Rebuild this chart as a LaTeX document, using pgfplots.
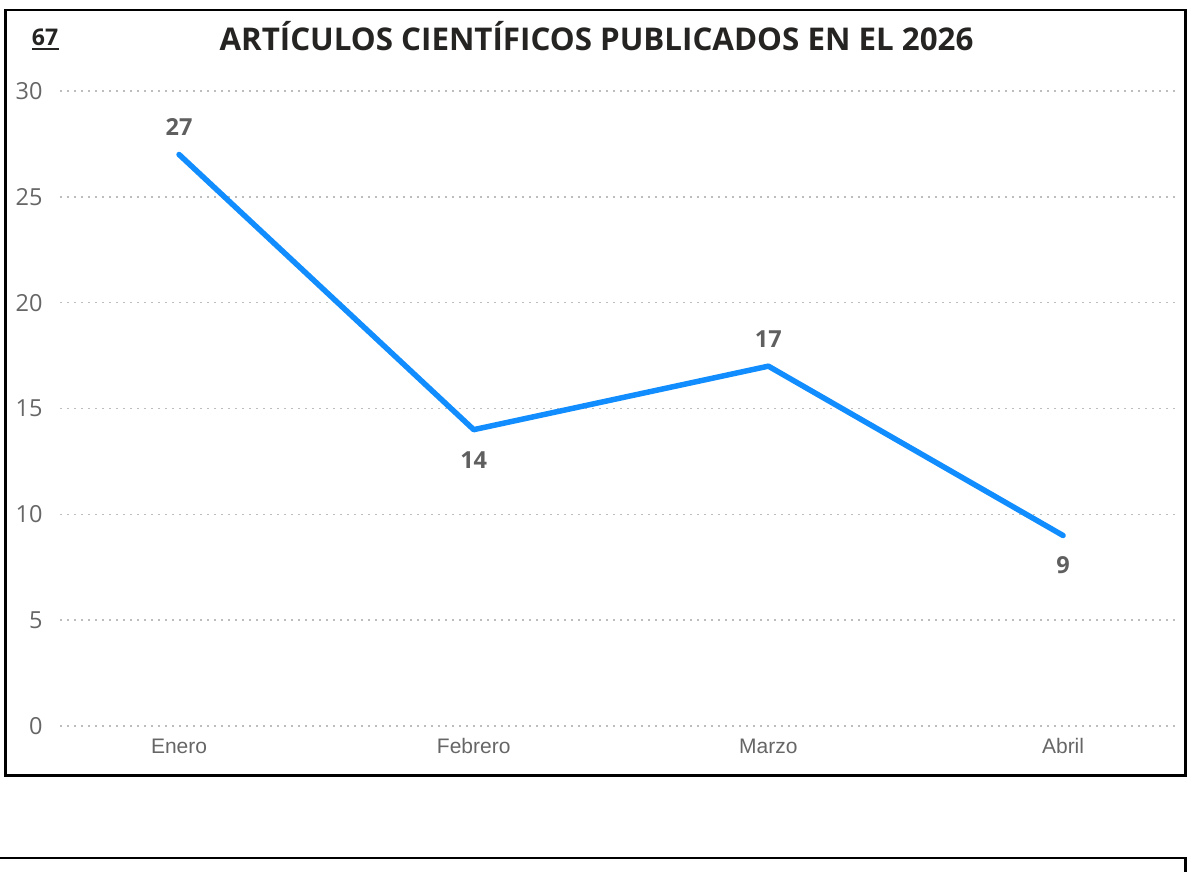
\documentclass[border=0pt]{standalone}
\usepackage{pgfplots}
\pgfplotsset{compat=1.18}
\usepackage{fontspec}
\setmainfont{Open Sans}
\newfontfamily\arialfont{Liberation Sans}
\definecolor{lineblue}{HTML}{118DFF}
\definecolor{titlecol}{HTML}{252423}
\definecolor{tickgray}{HTML}{666666}
\definecolor{lblgray}{HTML}{5F5F5F}
\definecolor{gridgray}{HTML}{BDBDBD}
\pgfplotstableread{
x y
0 27
1 14
2 17
3 9
}\datatab
\pgfplotstableread{
x y
0 27
2 17
}\abovetab
\pgfplotstableread{
x y
1 14
3 9
}\belowtab
\begin{document}
\begin{tikzpicture}
\path[use as bounding box] (0bp,0bp) rectangle (1203bp,872bp);
% outer box
\draw[line width=2.7bp,black] (5.5bp,862bp) rectangle (1185.5bp,96.5bp);
% second box (partial)
\draw[line width=2.7bp,black] (-2bp,14bp) -- (1185.5bp,14bp) -- (1185.5bp,-3bp);
% title
\node[font=\fontsize{31.3bp}{36bp}\selectfont\bfseries,text=titlecol] at (596.5bp,836bp) {ARTÍCULOS CIENTÍFICOS PUBLICADOS EN EL 2026};
\node[font=\fontsize{23bp}{27bp}\selectfont\bfseries,text=titlecol,inner sep=0pt] (n67) at (45bp,835bp) {67};
\draw[titlecol,line width=2.6bp] (32bp,823bp) -- (58.5bp,823bp);
\begin{axis}[
  at={(60bp,146bp)}, anchor=south west,
  scale only axis, width=1118bp, height=635bp,
  xmin=-0.404, xmax=3.39, ymin=0, ymax=30,
  xtick={0,1,2,3}, xticklabels={Enero,Febrero,Marzo,Abril},
  ytick={0,5,10,15,20,25,30},
  axis line style={draw=none},
  major tick length=0pt,
  ymajorgrids,
  major grid style={gridgray, line width=1.6bp, dash pattern=on 1.6bp off 5.4bp},
  /pgf/number format/assume math mode=true,
  yticklabel style={font=\fontsize{23.5bp}{27bp}\selectfont, text=tickgray, anchor=east, xshift=-14bp},
  xticklabel style={font=\arialfont\fontsize{21bp}{24bp}\selectfont, text=tickgray, anchor=base, yshift=-28bp},
  clip=false,
]
\addplot[lineblue, line width=5.5bp, line cap=round, line join=round] table[x=x,y=y] {\datatab};
\addplot[draw=none, nodes near coords,
  every node near coord/.append style={anchor=center, yshift=27bp, font=\fontsize{23.5bp}{27bp}\selectfont\bfseries, text=lblgray}
] table[x=x,y=y] {\abovetab};
\addplot[draw=none, nodes near coords,
  every node near coord/.append style={anchor=center, yshift=-30bp, font=\fontsize{23.5bp}{27bp}\selectfont\bfseries, text=lblgray}
] table[x=x,y=y] {\belowtab};
\end{axis}
\end{tikzpicture}
\end{document}
